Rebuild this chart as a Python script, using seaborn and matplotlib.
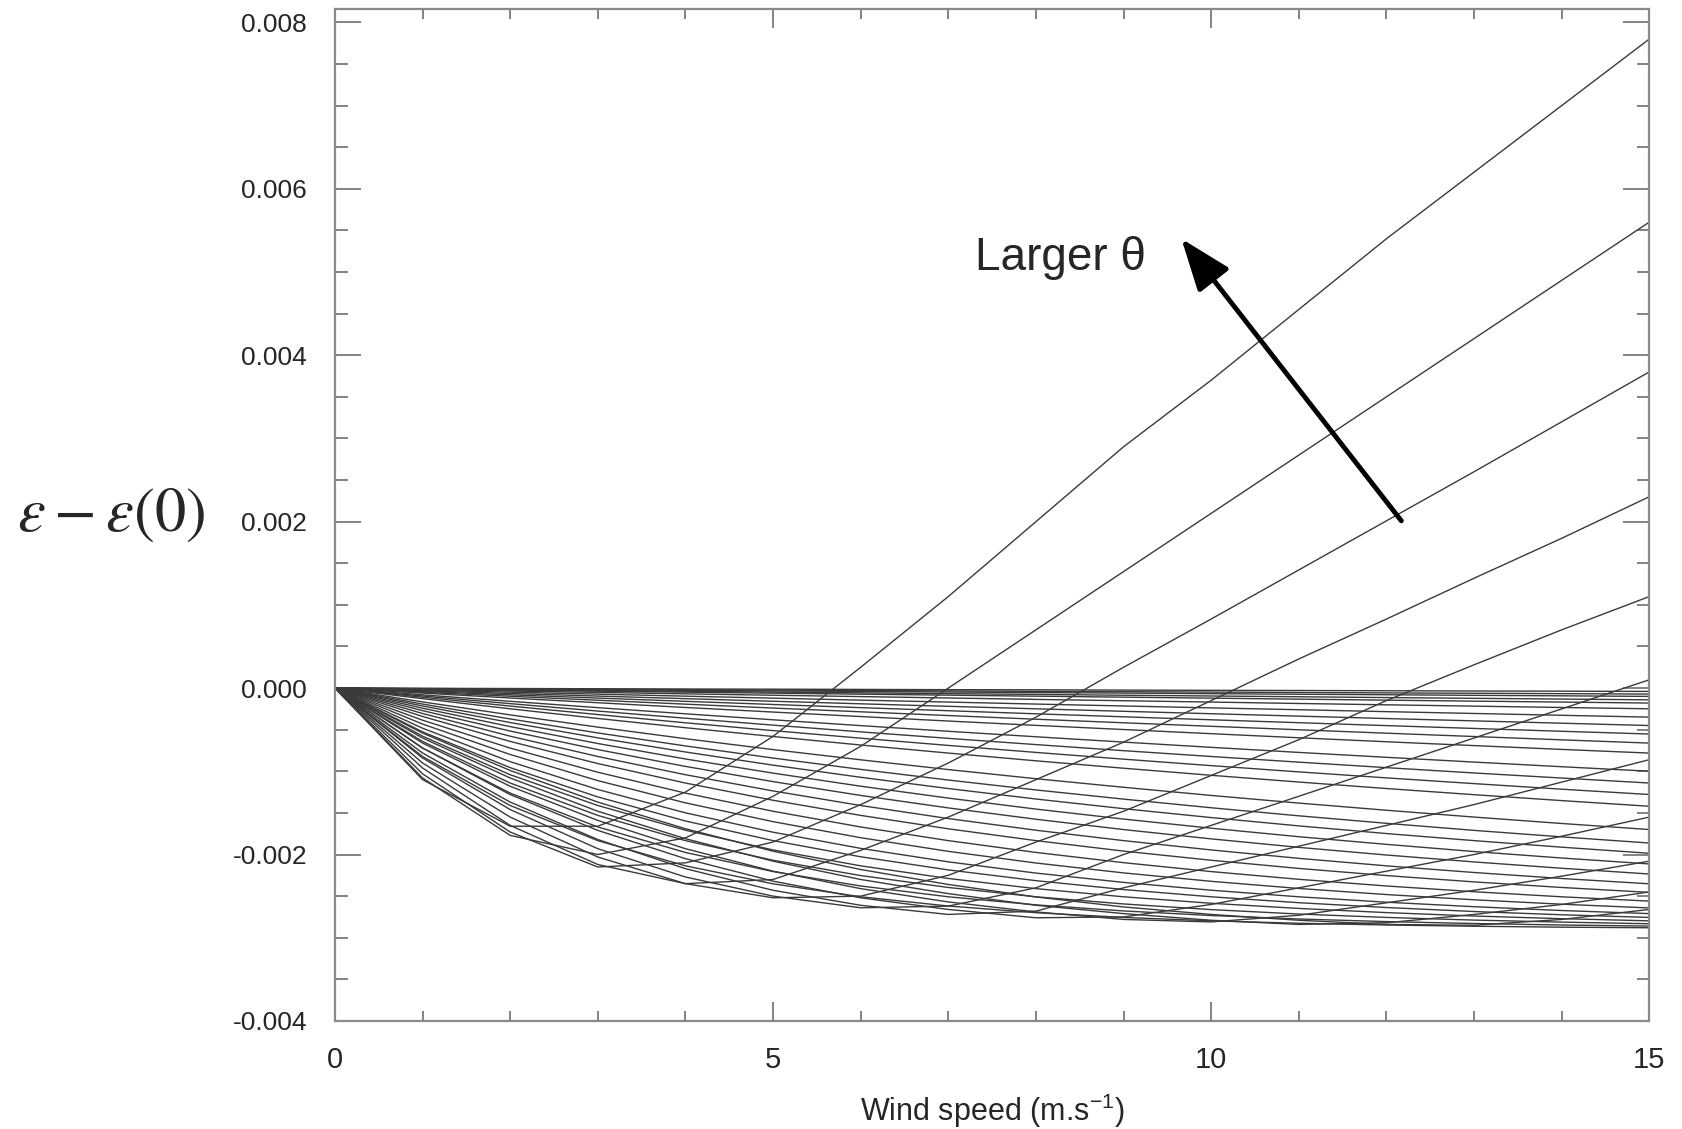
import matplotlib
matplotlib.use("Agg")
import matplotlib.pyplot as plt
from matplotlib.ticker import MultipleLocator, FormatStrFormatter
import seaborn as sns
import pandas as pd

# wind speed grid (m/s)
wind = [0, 1, 2, 3, 4, 5, 6, 7, 8, 9, 10, 11, 12, 13, 14, 15]

# emissivity change, in units of 1e-4
# curves that turn upward (larger incidence angles)
rise_1 = [0, -11, -16.6, -16.6, -12.5, -5.8, 2.5, 11, 20, 29, 37, 45.5, 54, 62, 70, 78]
rise_2 = [0, -10.8, -17.7, -20, -18, -13, -7, 0, 7, 14, 21, 28, 35, 42, 49, 56]
rise_3 = [0, -10.3, -17.3, -21.5, -21, -18.5, -14, -9, -3.5, 2.5, 8.3, 14.2, 20.1, 26, 32, 38]
rise_4 = [0, -9.6, -16.5, -21.2, -23.5, -23, -19.5, -15.5, -11, -6.5, -1.5, 3.5, 8.3, 13.2, 18, 23]
rise_5 = [0, -9, -15.5, -20.3, -23.5, -25.2, -25, -22.5, -18.5, -14.8, -10.5, -6.2, -1.5, 2.8, 7, 11]
rise_6 = [0, -8.4, -14.6, -19.3, -22.7, -25, -26.4, -26.2, -24, -20, -16.5, -13, -9.5, -6, -2.5, 1]
rise_7 = [0, -7.8, -13.7, -18.2, -21.7, -24.3, -26.1, -27.2, -26.8, -24, -21.5, -19, -16.5, -14, -11.3, -8.6]
rise_8 = [0, -7.2, -12.8, -17.1, -20.5, -23.2, -25.2, -26.6, -27.6, -27.5, -26, -24, -22, -20, -17.8, -15.5]
rise_9 = [0, -6.6, -11.8, -15.9, -19.3, -22, -24.1, -25.7, -26.9, -27.8, -28.1, -27.3, -25.8, -24.3, -22.6, -20.8]
rise_10 = [0, -6, -10.8, -14.8, -18.1, -20.8, -23, -24.7, -26.1, -27.1, -27.9, -28.4, -28.2, -27.2, -26, -24.5]
rise_11 = [0, -5.4, -9.9, -13.7, -16.9, -19.6, -21.8, -23.6, -25.1, -26.3, -27.2, -27.9, -28.4, -28.5, -27.8, -26.6]

# curves that keep decreasing (smaller incidence angles)
fall_01 = [0, -0.03, -0.05, -0.08, -0.11, -0.13, -0.16, -0.19, -0.21, -0.24, -0.27, -0.29, -0.32, -0.35, -0.37, -0.40]
fall_02 = [0, -0.05, -0.10, -0.14, -0.19, -0.24, -0.29, -0.34, -0.39, -0.43, -0.48, -0.53, -0.58, -0.62, -0.67, -0.72]
fall_03 = [0, -0.07, -0.14, -0.20, -0.27, -0.34, -0.40, -0.47, -0.54, -0.60, -0.67, -0.74, -0.80, -0.87, -0.93, -1.00]
fall_04 = [0, -0.10, -0.19, -0.29, -0.38, -0.48, -0.57, -0.67, -0.76, -0.86, -0.95, -1.04, -1.14, -1.23, -1.32, -1.41]
fall_05 = [0, -0.12, -0.25, -0.37, -0.49, -0.61, -0.73, -0.85, -0.97, -1.09, -1.21, -1.33, -1.45, -1.57, -1.68, -1.80]
fall_06 = [0, -0.17, -0.35, -0.52, -0.69, -0.86, -1.02, -1.19, -1.36, -1.52, -1.68, -1.85, -2.01, -2.17, -2.33, -2.49]
fall_07 = [0, -0.25, -0.49, -0.73, -0.97, -1.21, -1.45, -1.68, -1.92, -2.15, -2.38, -2.60, -2.83, -3.05, -3.27, -3.49]
fall_08 = [0, -0.32, -0.65, -0.96, -1.27, -1.58, -1.89, -2.19, -2.49, -2.79, -3.08, -3.37, -3.66, -3.94, -4.22, -4.50]
fall_09 = [0, -0.41, -0.81, -1.20, -1.59, -1.97, -2.35, -2.72, -3.09, -3.45, -3.81, -4.16, -4.51, -4.85, -5.19, -5.52]
fall_10 = [0, -0.50, -0.98, -1.46, -1.93, -2.40, -2.85, -3.30, -3.74, -4.17, -4.59, -5.01, -5.42, -5.82, -6.22, -6.61]
fall_11 = [0, -0.60, -1.19, -1.76, -2.33, -2.88, -3.42, -3.96, -4.48, -4.98, -5.48, -5.97, -6.45, -6.91, -7.37, -7.81]
fall_12 = [0, -0.81, -1.59, -2.35, -3.09, -3.81, -4.51, -5.19, -5.85, -6.49, -7.12, -7.73, -8.32, -8.89, -9.45, -9.99]
fall_13 = [0, -0.95, -1.87, -2.76, -3.62, -4.45, -5.26, -6.04, -6.79, -7.52, -8.22, -8.90, -9.56, -10.20, -10.81, -11.41]
fall_14 = [0, -1.10, -2.16, -3.18, -4.17, -5.11, -6.02, -6.89, -7.73, -8.54, -9.32, -10.07, -10.79, -11.48, -12.15, -12.79]
fall_15 = [0, -1.27, -2.49, -3.65, -4.76, -5.82, -6.84, -7.81, -8.74, -9.63, -10.48, -11.29, -12.07, -12.81, -13.52, -14.20]
fall_16 = [0, -1.66, -3.22, -4.69, -6.08, -7.39, -8.62, -9.79, -10.89, -11.92, -12.90, -13.82, -14.68, -15.50, -16.27, -17.00]
fall_17 = [0, -1.92, -3.71, -5.39, -6.95, -8.41, -9.77, -11.05, -12.24, -13.34, -14.38, -15.35, -16.25, -17.10, -17.88, -18.62]
fall_18 = [0, -2.15, -4.14, -5.98, -7.68, -9.26, -10.72, -12.07, -13.33, -14.49, -15.56, -16.56, -17.48, -18.33, -19.12, -19.85]
fall_19 = [0, -2.42, -4.63, -6.66, -8.52, -10.22, -11.79, -13.22, -14.54, -15.74, -16.84, -17.86, -18.78, -19.64, -20.42, -21.13]
fall_20 = [0, -2.71, -5.16, -7.39, -9.41, -11.24, -12.90, -14.40, -15.76, -17.00, -18.12, -19.14, -20.06, -20.89, -21.65, -22.34]
fall_21 = [0, -3.05, -5.78, -8.22, -10.41, -12.36, -14.11, -15.68, -17.08, -18.33, -19.45, -20.46, -21.36, -22.16, -22.88, -23.52]
fall_22 = [0, -3.41, -6.41, -9.07, -11.41, -13.48, -15.30, -16.91, -18.33, -19.59, -20.69, -21.67, -22.53, -23.29, -23.96, -24.55]
fall_23 = [0, -3.86, -7.21, -10.11, -12.62, -14.80, -16.69, -18.33, -19.75, -20.98, -22.05, -22.98, -23.78, -24.47, -25.08, -25.60]
fall_24 = [0, -4.32, -7.98, -11.12, -13.79, -16.05, -17.98, -19.62, -21.02, -22.21, -23.22, -24.08, -24.81, -25.44, -25.97, -26.42]
fall_25 = [0, -4.82, -8.84, -12.19, -14.99, -17.32, -19.26, -20.88, -22.23, -23.35, -24.29, -25.08, -25.73, -26.27, -26.73, -27.10]
fall_26 = [0, -5.26, -9.56, -13.08, -15.97, -18.33, -20.27, -21.85, -23.14, -24.21, -25.08, -25.79, -26.37, -26.85, -27.24, -27.56]
fall_27 = [0, -5.78, -10.41, -14.11, -17.08, -19.45, -21.36, -22.88, -24.10, -25.08, -25.86, -26.48, -26.98, -27.39, -27.71, -27.97]
fall_28 = [0, -6.41, -11.41, -15.30, -18.33, -20.69, -22.53, -23.96, -25.08, -25.94, -26.62, -27.15, -27.56, -27.88, -28.12, -28.32]
fall_29 = [0, -7.21, -12.62, -16.69, -19.75, -22.05, -23.78, -25.08, -26.05, -26.78, -27.33, -27.75, -28.06, -28.29, -28.47, -28.60]
fall_30 = [0, -8.22, -14.11, -18.33, -21.36, -23.52, -25.08, -26.19, -26.99, -27.56, -27.97, -28.26, -28.47, -28.62, -28.73, -28.80]

x_ticks = [0, 5, 10, 15]
y_ticks = [-0.004, -0.002, 0.000, 0.002, 0.004, 0.006, 0.008]
x_label = r"Wind speed (m.s$\mathregular{^{-1}}$)"
y_label = r"$\varepsilon - \varepsilon\mathrm{(0)}$"
note_text = "Larger θ"

curves = [rise_1, rise_2, rise_3, rise_4, rise_5, rise_6, rise_7, rise_8, rise_9,
          rise_10, rise_11,
          fall_01, fall_02, fall_03, fall_04, fall_05, fall_06, fall_07, fall_08,
          fall_09, fall_10, fall_11, fall_12, fall_13, fall_14, fall_15, fall_16,
          fall_17, fall_18, fall_19, fall_20, fall_21, fall_22, fall_23, fall_24,
          fall_25, fall_26, fall_27, fall_28, fall_29, fall_30]

rows = []
for i, c in enumerate(curves):
    for w, v in zip(wind, c):
        rows.append({"wind": w, "value": v * 1e-4, "curve": i})
df = pd.DataFrame(rows)

sns.set_style("ticks")
plt.rcParams["font.family"] = ["Liberation Sans", "DejaVu Sans"]
plt.rcParams["mathtext.default"] = "it"

fig = plt.figure(figsize=(16.83, 11.29), dpi=100)
ax = fig.add_axes([0.199, 0.0957, 0.781, 0.8963])

sns.lineplot(data=df, x="wind", y="value", hue="curve",
             palette=["#3a3a3a"] * len(curves), legend=False, estimator=None,
             sort=False, linewidth=1.0, ax=ax)

ax.set_xlim(0, 15)
ax.set_ylim(-0.004, 0.00816)
ax.set_xticks(x_ticks)
ax.set_yticks(y_ticks)
ax.xaxis.set_minor_locator(MultipleLocator(1))
ax.yaxis.set_minor_locator(MultipleLocator(0.0005))
ax.yaxis.set_major_formatter(FormatStrFormatter("%.3f"))

for s in ax.spines.values():
    s.set_visible(True)
    s.set_color("#8a8a8a")
    s.set_linewidth(1.6)

ax.tick_params(axis="both", which="both", direction="in", top=True, right=True,
               color="#7a7a7a", width=1.3)
ax.tick_params(axis="y", which="major", length=19, labelsize=19, pad=20)
ax.tick_params(axis="y", which="minor", length=9)
ax.tick_params(axis="x", which="major", length=14, labelsize=21, pad=18)
ax.tick_params(axis="x", which="minor", length=7)

ax.set_xlabel(x_label, fontsize=22, labelpad=13)
ax.set_ylabel("")

fig.text(0.066, 0.544, y_label, fontsize=45, math_fontfamily="stix",
         ha="center", va="center")

ax.annotate("", xy=(9.66, 0.0054), xytext=(12.17, 0.00201),
            arrowprops=dict(arrowstyle="-|>,head_length=0.8,head_width=0.3",
                            mutation_scale=40, lw=3.5, color="black",
                            shrinkA=0, shrinkB=0))
ax.text(7.3, 0.00517, note_text, fontsize=33, ha="left", va="center")

fig.savefig("out.png", dpi=100)
